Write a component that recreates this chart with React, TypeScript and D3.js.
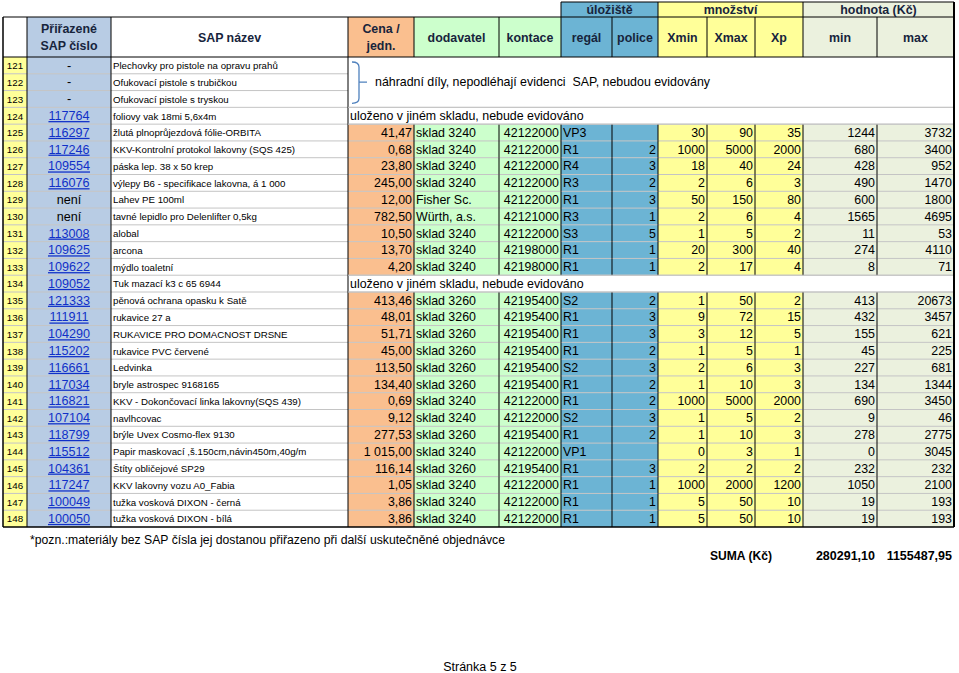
import React from 'react';
import * as d3 from 'd3';

// --- data read from the sheet ---
const rowNums = [121, 122, 123, 124, 125, 126, 127, 128, 129, 130, 131, 132, 133, 134,
  135, 136, 137, 138, 139, 140, 141, 142, 143, 144, 145, 146, 147, 148];

const sapCisla = ['-', '-', '-', '117764', '116297', '117246', '109554', '116076', 'není', 'není',
  '113008', '109625', '109622', '109052', '121333', '111911', '104290', '115202', '116661', '117034',
  '116821', '107104', '118799', '115512', '104361', '117247', '100049', '100050'];

const nazvy = [
  'Plechovky pro pistole na opravu prahů',
  'Ofukovací pistole s trubičkou',
  'Ofukovací pistole s tryskou',
  'foliovy vak 18mi 5,6x4m',
  'žlutá plnoprůjezdová fólie-ORBITA',
  'KKV-Kontrolní protokol lakovny (SQS 425)',
  'páska lep. 38 x 50 krep',
  'výlepy B6 - specifikace lakovna, á 1 000',
  'Lahev PE 100ml',
  'tavné lepidlo pro Delenlifter 0,5kg',
  'alobal',
  'arcona',
  'mýdlo toaletní',
  'Tuk mazací k3 c 65 6944',
  'pěnová ochrana opasku k Satě',
  'rukavice 27 a',
  'RUKAVICE PRO DOMACNOST DRSNE',
  'rukavice PVC červené',
  'Ledvinka',
  'bryle astrospec 9168165',
  'KKV - Dokončovací linka lakovny(SQS 439)',
  'navlhcovac',
  'brýle Uvex Cosmo-flex 9130',
  'Papir maskovací ,š.150cm,návin450m,40g/m',
  'Štíty obličejové SP29',
  'KKV lakovny vozu A0_Fabia',
  'tužka vosková DIXON - černá',
  'tužka vosková DIXON - bílá',
];

const ceny = [null, null, null, null, 41.47, 0.68, 23.8, 245, 12, 782.5, 10.5, 13.7, 4.2, null,
  413.46, 48.01, 51.71, 45, 113.5, 134.4, 0.69, 9.12, 277.53, 1015, 116.14, 1.05, 3.86, 3.86];

const dodavatele = ['', '', '', '', 'sklad 3240', 'sklad 3240', 'sklad 3240', 'sklad 3240', 'Fisher Sc.',
  'Würth, a.s.', 'sklad 3240', 'sklad 3240', 'sklad 3240', '', 'sklad 3260', 'sklad 3260', 'sklad 3260',
  'sklad 3260', 'sklad 3260', 'sklad 3260', 'sklad 3240', 'sklad 3240', 'sklad 3260', 'sklad 3240',
  'sklad 3260', 'sklad 3240', 'sklad 3240', 'sklad 3240'];

const kontace = ['', '', '', '', '42122000', '42122000', '42122000', '42122000', '42122000', '42121000',
  '42122000', '42198000', '42198000', '', '42195400', '42195400', '42195400', '42195400', '42195400',
  '42195400', '42122000', '42122000', '42195400', '42122000', '42195400', '42122000', '42122000', '42122000'];

const regaly = ['', '', '', '', 'VP3', 'R1', 'R4', 'R3', 'R1', 'R3', 'S3', 'R1', 'R1', '', 'S2', 'R1', 'R1',
  'R1', 'S2', 'R1', 'R1', 'S2', 'R1', 'VP1', 'R1', 'R1', 'R1', 'R1'];

const police = ['', '', '', '', '', '2', '3', '2', '3', '1', '5', '1', '1', '', '2', '3', '3', '2', '3', '2',
  '2', '3', '2', '', '3', '1', '1', '1'];

const xMin = ['', '', '', '', 30, 1000, 18, 2, 50, 2, 1, 20, 2, '', 1, 9, 3, 1, 2, 1, 1000, 1, 1, 0, 2, 1000, 5, 5];
const xMax = ['', '', '', '', 90, 5000, 40, 6, 150, 6, 5, 300, 17, '', 50, 72, 12, 5, 6, 10, 5000, 5, 10, 3, 2, 2000, 50, 50];
const xP = ['', '', '', '', 35, 2000, 24, 3, 80, 4, 2, 40, 4, '', 2, 15, 5, 1, 3, 3, 2000, 2, 3, 1, 2, 1200, 10, 10];
const hodMin = ['', '', '', '', 1244, 680, 428, 490, 600, 1565, 11, 274, 8, '', 413, 432, 155, 45, 227, 134, 690, 9, 278, 0, 232, 1050, 19, 19];
const hodMax = ['', '', '', '', 3732, 3400, 952, 1470, 1800, 4695, 53, 4110, 71, '', 20673, 3457, 621, 225, 681, 1344, 3450, 46, 2775, 3045, 232, 2100, 193, 193];

const sumaMin = 280291.10;
const sumaMax = 1155487.95;

const poznamka = 'náhradní díly, nepodléhají evidenci\u00a0 SAP, nebudou evidovány';
const jinde = 'uloženo v jiném skladu, nebude evidováno';

// --- layout ---
const W = 959;
const H = 673;
const edges = [3, 27, 111, 348, 414, 499, 561, 612, 658, 707, 755, 803, 877, 954];
const headTop = 17;
const groupTop = 2;
const headBottom = 57;
const tableBottom = 527;

const YELLOW = '#ffff99';
const SAPBLUE = '#b8cce4';
const ORANGE = '#fabf8f';
const GREEN = '#ccffcc';
const BLUE = '#6cb4d4';
const BEIGE = '#ebf1de';
const HEADTXT = '#17243c';
const FONT = '"Liberation Sans", Arial, sans-serif';

const colFills = [YELLOW, SAPBLUE, '#ffffff', ORANGE, GREEN, GREEN, BLUE, BLUE, YELLOW, YELLOW, YELLOW, BEIGE, BEIGE];
const headFills = ['#ffffff', SAPBLUE, '#ffffff', ORANGE, GREEN, GREEN, BLUE, BLUE, YELLOW, YELLOW, YELLOW, BEIGE, BEIGE];
const headLabels = [[''], ['Přiřazené', 'SAP číslo'], ['SAP název'], ['Cena /', 'jedn.'], ['dodavatel'], ['kontace'],
  ['regál'], ['police'], ['Xmin'], ['Xmax'], ['Xp'], ['min'], ['max']];
const groups = [
  { label: 'úložiště', from: 6, to: 8, fill: BLUE },
  { label: 'množství', from: 8, to: 11, fill: YELLOW },
  { label: 'hodnota (Kč)', from: 11, to: 13, fill: BEIGE },
];

const cz = d3.formatLocale({ decimal: ',', thousands: '\u00a0', grouping: [3], currency: ['', ''] });
const fPrice = cz.format(',.2f');
const fSum = cz.format('.2f');

export default function App() {
  const y = d3.scaleBand<number>().domain(rowNums).range([headBottom, tableBottom]);
  const rh = y.bandwidth();
  const mid = (r: number) => (y(r) as number) + rh / 2;

  const isNote = (i: number) => sapCisla[i] === '-';
  const isJinde = (i: number) => !isNote(i) && ceny[i] === null;

  const noteTop = y(rowNums[0]) as number;
  const noteBottom = (y(rowNums[2]) as number) + rh;
  const braceX = 359;

  const cells: React.ReactNode[] = [];
  rowNums.forEach((r, i) => {
    const top = y(r) as number;
    const merged = isNote(i) || isJinde(i);
    colFills.forEach((fill, c) => {
      if (merged && c >= 3) return;
      cells.push(<rect key={`f${i}-${c}`} x={edges[c]} y={top} width={edges[c + 1] - edges[c]} height={rh} fill={fill} />);
    });
  });

  const hLines: React.ReactNode[] = [];
  rowNums.forEach((r, i) => {
    if (i === 0) return;
    const top = y(r) as number;
    const inNote = i < 3;
    hLines.push(<line key={`h${i}`} x1={edges[0]} x2={inNote ? edges[3] : edges[13]} y1={top} y2={top} stroke="#c4c4c4" strokeWidth={1} />);
  });

  const vLines: React.ReactNode[] = [];
  edges.forEach((x, c) => {
    if (c === 0 || c === edges.length - 1) return;
    if (c <= 3) {
      vLines.push(<line key={`v${c}`} x1={x} x2={x} y1={headTop} y2={tableBottom} stroke="#000" strokeWidth={1} />);
    } else {
      vLines.push(<line key={`vh${c}`} x1={x} x2={x} y1={headTop} y2={headBottom} stroke="#000" strokeWidth={1} />);
      rowNums.forEach((r, i) => {
        if (isNote(i) || isJinde(i)) return;
        const top = y(r) as number;
        vLines.push(<line key={`vd${c}-${i}`} x1={x} x2={x} y1={top} y2={top + rh} stroke="#000" strokeWidth={1} />);
      });
    }
  });

  const texts: React.ReactNode[] = [];
  rowNums.forEach((r, i) => {
    const cy = mid(r) + 4.3;
    texts.push(<text key={`n${i}`} x={(edges[0] + edges[1]) / 2} y={cy - 0.5} fontSize={9.8} textAnchor="middle">{r}</text>);
    const link = /^\d+$/.test(sapCisla[i]);
    texts.push(
      <text key={`s${i}`} x={(edges[1] + edges[2]) / 2} y={cy} fontSize={12.6} textAnchor="middle"
        fill={link ? '#1030c8' : '#000'} textDecoration={link ? 'underline' : undefined}>{sapCisla[i]}</text>,
    );
    texts.push(<text key={`t${i}`} x={edges[2] + 2} y={cy - 0.5} fontSize={9.7}>{nazvy[i]}</text>);
    if (isJinde(i)) {
      texts.push(<text key={`j${i}`} x={edges[3] + 2} y={cy} fontSize={12.4}>{jinde}</text>);
      return;
    }
    if (isNote(i)) return;
    const c = ceny[i] as number;
    texts.push(<text key={`c${i}`} x={edges[4] - 2} y={cy} fontSize={12.4} textAnchor="end">{fPrice(c)}</text>);
    texts.push(<text key={`d${i}`} x={edges[4] + 2} y={cy} fontSize={12.4}>{dodavatele[i]}</text>);
    texts.push(<text key={`k${i}`} x={edges[6] - 2} y={cy} fontSize={12.4} textAnchor="end">{kontace[i]}</text>);
    texts.push(<text key={`r${i}`} x={edges[6] + 2} y={cy} fontSize={12.4}>{regaly[i]}</text>);
    texts.push(<text key={`p${i}`} x={edges[8] - 2} y={cy} fontSize={12.4} textAnchor="end">{police[i]}</text>);
    [xMin, xMax, xP, hodMin, hodMax].forEach((arr, k) => {
      texts.push(<text key={`x${k}-${i}`} x={edges[9 + k] - 2} y={cy} fontSize={12.4} textAnchor="end">{arr[i]}</text>);
    });
  });

  const braceMid = (noteTop + noteBottom) / 2;
  const bTop = noteTop + 5;
  const bBot = noteBottom - 4;
  const brace = d3.path();
  brace.moveTo(braceX - 7, bTop);
  brace.quadraticCurveTo(braceX, bTop, braceX, bTop + 5);
  brace.lineTo(braceX, bBot - 5);
  brace.quadraticCurveTo(braceX, bBot, braceX - 7, bBot);
  brace.moveTo(braceX, braceMid);
  brace.lineTo(braceX + 8, braceMid);

  return (
    <svg width={W} height={H} style={{ position: 'absolute', left: 0, top: 0, background: '#fff' }} fontFamily={FONT}>
      <rect x={0} y={0} width={W} height={H} fill="#fff" />

      {/* header fills */}
      {headFills.map((f, c) => (
        <rect key={`hf${c}`} x={edges[c]} y={headTop} width={edges[c + 1] - edges[c]} height={headBottom - headTop} fill={f} />
      ))}
      {groups.map((g) => (
        <rect key={g.label} x={edges[g.from]} y={groupTop} width={edges[g.to] - edges[g.from]} height={headTop - groupTop} fill={g.fill} />
      ))}

      {cells}
      {hLines}
      {vLines}

      {/* header borders */}
      <line x1={edges[0]} x2={edges[13]} y1={headTop} y2={headTop} stroke="#000" />
      <line x1={edges[6]} x2={edges[13]} y1={groupTop} y2={groupTop} stroke="#000" />
      <line x1={edges[0]} x2={edges[13]} y1={headBottom} y2={headBottom} stroke="#000" />
      {groups.map((g) => (
        <line key={`gl${g.label}`} x1={edges[g.from]} x2={edges[g.from]} y1={groupTop} y2={headTop} stroke="#000" />
      ))}
      {/* merged-rows separators */}
      {rowNums.map((r, i) => (isJinde(i) ? (
        <g key={`m${i}`}>
          <line x1={edges[3]} x2={edges[13]} y1={y(r) as number} y2={y(r) as number} stroke="#c4c4c4" />
          <line x1={edges[3]} x2={edges[13]} y1={(y(r) as number) + rh} y2={(y(r) as number) + rh} stroke="#c4c4c4" />
        </g>
      ) : null))}

      {/* outer frame */}
      <line x1={edges[0]} x2={edges[0]} y1={headTop} y2={tableBottom} stroke="#000" strokeWidth={1.5} />
      <line x1={edges[13]} x2={edges[13]} y1={groupTop} y2={tableBottom} stroke="#000" strokeWidth={2} />
      <line x1={edges[0]} x2={edges[13]} y1={tableBottom} y2={tableBottom} stroke="#000" strokeWidth={1.5} />

      {/* header texts */}
      {groups.map((g) => (
        <text key={`gt${g.label}`} x={(edges[g.from] + edges[g.to]) / 2} y={headTop - 3.5} fontSize={12.4}
          fontWeight="bold" textAnchor="middle" fill={HEADTXT}>{g.label}</text>
      ))}
      {headLabels.map((lines, c) => lines.map((t, k) => (
        <text key={`hl${c}-${k}`} x={(edges[c] + edges[c + 1]) / 2}
          y={lines.length === 1 ? 41.5 : 33 + k * 17} fontSize={12.4} fontWeight="bold"
          textAnchor="middle" fill={HEADTXT}>{t}</text>
      )))}

      {texts}

      {/* note about spare parts */}
      <path d={brace.toString()} fill="none" stroke="#4f81bd" strokeWidth={1.3} />
      <text x={375} y={braceMid + 4.3} fontSize={12.4}>{poznamka}</text>

      {/* footer */}
      <text x={30} y={544} fontSize={12.5} textLength={475} lengthAdjust="spacingAndGlyphs">
        *pozn.:materiály bez SAP čísla jej dostanou přiřazeno při další uskutečněné objednávce
      </text>
      <text x={710} y={560} fontSize={12.5} fontWeight="bold" textLength={62} lengthAdjust="spacingAndGlyphs">SUMA (Kč)</text>
      <text x={875} y={560} fontSize={12.5} fontWeight="bold" textAnchor="end">{fSum(sumaMin)}</text>
      <text x={952} y={560} fontSize={12.5} fontWeight="bold" textAnchor="end">{fSum(sumaMax)}</text>
      <text x={480} y={671} fontSize={12.5} textAnchor="middle">Stránka 5 z 5</text>
    </svg>
  );
}
